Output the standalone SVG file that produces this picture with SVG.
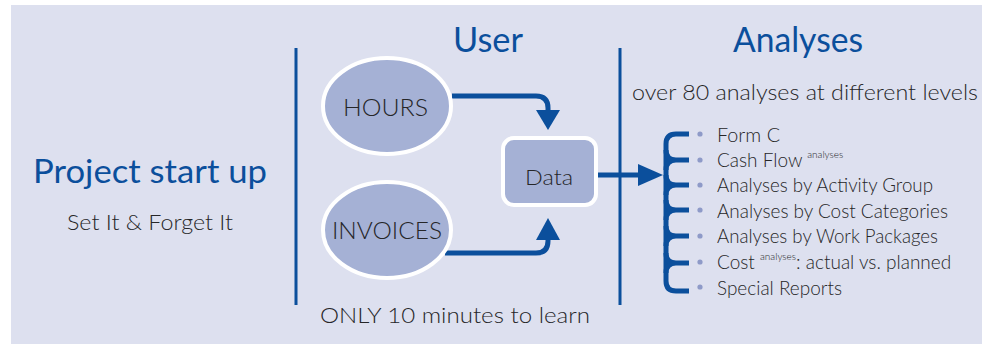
<svg xmlns="http://www.w3.org/2000/svg" width="992" height="344" viewBox="0 0 992 344">
<style>
.title{font-family:Lato,"Liberation Sans",sans-serif;fill:#0b4f9c;}
.txt{font-family:Lato,"Liberation Sans",sans-serif;font-weight:300;fill:#262628;}
.sup{font-size:10px;}
.node{fill:#a5b1d5;stroke:#ffffff;stroke-width:4;}
.conn{fill:none;stroke:#0b4f9c;stroke-width:5;}
.ah{fill:#0b4f9c;}
.divider{stroke:#0b4f9c;stroke-width:3;}
.dot{fill:#8e9ac8;}
</style>
<rect x="11" y="5" width="971" height="339" fill="#dde0ef"/>
<line class="divider" x1="296" y1="48" x2="296" y2="305"/>
<line class="divider" x1="620" y1="48" x2="620" y2="305"/>
<text class="title" x="33" y="183" font-size="33" textLength="234" lengthAdjust="spacingAndGlyphs">Project start up</text>
<text class="txt" x="67" y="230" font-size="21" textLength="166" lengthAdjust="spacingAndGlyphs">Set It &amp; Forget It</text>
<text class="title" x="453" y="52" font-size="35" textLength="70" lengthAdjust="spacingAndGlyphs">User</text>
<text class="title" x="733" y="52" font-size="35" textLength="130" lengthAdjust="spacingAndGlyphs">Analyses</text>
<text class="txt" x="632" y="100" font-size="22" textLength="346" lengthAdjust="spacingAndGlyphs">over 80 analyses at different levels</text>
<text class="txt" x="320" y="323" font-size="22" textLength="270" lengthAdjust="spacingAndGlyphs">ONLY 10 minutes to learn</text>
<g id="connectors">
<path class="conn" d="M452,96 H536 Q548,96 548,108 V112"/>
<polygon class="ah" points="536,110 560,110 548,130"/>
<path class="conn" d="M445,253 H536 Q548,253 548,241 V238"/>
<polygon class="ah" points="536,240 560,240 548,218"/>
<path class="conn" d="M596,175 H640"/>
<polygon class="ah" points="638,164 638,186 663,175"/>
<g id="bracket">
<path class="conn" d="M689,134 H676 Q666,134 666,144 V281 Q666,291 676,291 H689"/>
<path class="conn" d="M666,150 Q666,160 676,160 H689 M666,170 Q666,160 676,160"/>
<path class="conn" d="M666,175 Q666,185 676,185 H689 M666,195 Q666,185 676,185"/>
<path class="conn" d="M666,200 Q666,210 676,210 H689 M666,220 Q666,210 676,210"/>
<path class="conn" d="M666,226 Q666,236 676,236 H689 M666,246 Q666,236 676,236"/>
<path class="conn" d="M666,253 Q666,263 676,263 H689 M666,273 Q666,263 676,263"/>
</g>
</g>
<g id="hours">
<ellipse class="node" cx="387" cy="106" rx="64" ry="48"/>
<text class="txt" x="343" y="116" font-size="24" textLength="85" lengthAdjust="spacingAndGlyphs">HOURS</text>
</g>
<g id="invoices">
<ellipse class="node" cx="387" cy="230" rx="64" ry="48"/>
<text class="txt" x="332" y="239" font-size="24" textLength="110" lengthAdjust="spacingAndGlyphs">INVOICES</text>
</g>
<g id="data">
<rect class="node" x="503" y="138" width="93" height="67" rx="11"/>
<text class="txt" x="525" y="185" font-size="22" textLength="48" lengthAdjust="spacingAndGlyphs">Data</text>
</g>
<g id="analyses-list">
<circle class="dot" cx="700" cy="134" r="2.6"/>
<circle class="dot" cx="700" cy="160" r="2.6"/>
<circle class="dot" cx="700" cy="185" r="2.6"/>
<circle class="dot" cx="700" cy="210" r="2.6"/>
<circle class="dot" cx="700" cy="236" r="2.6"/>
<circle class="dot" cx="700" cy="262" r="2.6"/>
<circle class="dot" cx="700" cy="287" r="2.6"/>
<text class="txt" x="717" y="142" font-size="19" textLength="63" lengthAdjust="spacingAndGlyphs">Form C</text>
<text class="txt" x="717" y="167" font-size="19">Cash Flow <tspan class="sup" dy="-9">analyses</tspan></text>
<text class="txt" x="717" y="192" font-size="19" textLength="216" lengthAdjust="spacingAndGlyphs">Analyses by Activity Group</text>
<text class="txt" x="717" y="218" font-size="19" textLength="231" lengthAdjust="spacingAndGlyphs">Analyses by Cost Categories</text>
<text class="txt" x="717" y="243" font-size="19" textLength="221" lengthAdjust="spacingAndGlyphs">Analyses by Work Packages</text>
<text class="txt" x="717" y="269" font-size="19">Cost <tspan class="sup" dy="-9">analyses</tspan><tspan dy="9">: actual vs. planned</tspan></text>
<text class="txt" x="717" y="295" font-size="19" textLength="125" lengthAdjust="spacingAndGlyphs">Special Reports</text>
</g>
</svg>
